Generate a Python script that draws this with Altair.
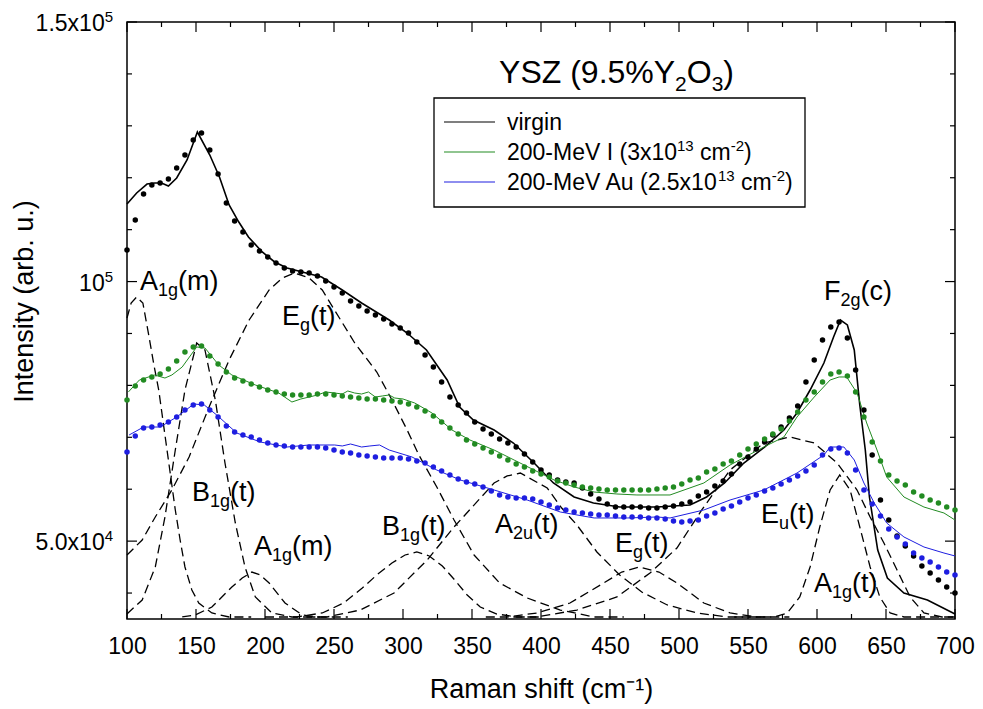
import altair as alt
import pandas as pd

FONT = "Liberation Sans"
W, H = 828, 597

# ---------------- data ----------------
# fitted curves (dots), sampled every 6 cm-1 from 100 to 700
fit_x = [100 + 6 * i for i in range(101)]
virgin_fit = [106080, 111860, 116870, 118600, 118990, 119760, 121880, 124380, 127270, 128620,
              125340, 120720, 115130, 111670, 109550, 107040, 105890, 104730, 103580, 102610,
              102040, 101840, 101650, 101070, 100110, 98950, 97800, 96260, 95290, 94330,
              93560, 92790, 91830, 91060, 90090, 88360, 85850, 83540, 80650, 77760,
              76220, 74680, 72950, 71600, 70640, 69670, 68900, 68130, 66780, 65240,
              63700, 62740, 61780, 61390, 61200, 60230, 59080, 58120, 57150, 56570,
              56570, 56570, 56570, 56380, 56380, 56570, 56770, 57150, 57540, 58690,
              59460, 60620, 61580, 62930, 64860, 66210, 67750, 69100, 70440, 71980,
              73720, 76030, 80650, 84890, 88740, 91250, 92210, 89130, 82970, 75260,
              66590, 57920, 54070, 50990, 49060, 47140, 45210, 43860, 42510, 41160, 40010]
iodine_fit = [77190, 79880, 81040, 81620, 82190, 83160, 84700, 86430, 87400, 87590,
              85660, 84120, 82580, 81420, 80850, 80270, 79690, 79110, 78730, 78340,
              78150, 78150, 78150, 78340, 78340, 78150, 77960, 77760, 77570, 77380,
              77380, 77190, 76990, 76800, 76420, 75840, 75070, 74100, 72950, 71790,
              70640, 69480, 68710, 67940, 67170, 66400, 65630, 64860, 64280, 63510,
              62930, 62350, 61580, 61200, 60810, 60430, 60230, 60040, 59850, 59850,
              59850, 59850, 59850, 59850, 60040, 60230, 60430, 61000, 61780, 62160,
              63320, 63890, 64860, 65440, 66590, 67750, 68710, 69670, 70640, 71600,
              73140, 74870, 77190, 78730, 80650, 82190, 82580, 81810, 78730, 73910,
              69100, 65440, 62740, 61580, 60810, 59460, 58690, 57920, 57340, 56570, 56000]
gold_fit = [67170, 70250, 71790, 71980, 72370, 72950, 73910, 75260, 76220, 76420,
            75260, 73910, 72180, 71020, 70440, 70060, 69480, 68900, 68520, 68330,
            68130, 68130, 68130, 68130, 67940, 67550, 67170, 66980, 66590, 66400,
            66210, 66010, 66010, 66010, 65820, 65440, 65050, 64280, 63510, 62740,
            61970, 61390, 61000, 60430, 59660, 58890, 58500, 58310, 58310, 58120,
            57540, 56960, 56380, 56000, 55610, 55420, 55230, 55030, 55030, 54840,
            54650, 54650, 54650, 54460, 54460, 54260, 53880, 53690, 53880, 54070,
            54840, 55420, 56190, 56770, 57540, 58310, 58890, 59660, 60230, 61000,
            61780, 62550, 63510, 64660, 66590, 67750, 67940, 66980, 63700, 59850,
            57150, 54840, 52330, 50800, 49450, 47710, 46750, 45980, 45020, 44050, 43480]

# measured spectra (solid lines)
virgin_x = [100, 107, 114.5, 120, 125, 130, 136, 143.5, 151, 160, 167, 174, 181, 188, 198,
            207, 216, 227, 241, 256, 270, 290, 303, 317, 332, 341, 351, 366, 380, 395,
            409, 424, 438, 457, 484, 508, 520, 533, 547, 562, 576, 585.5, 595, 605, 612,
            617, 622, 627, 631, 635, 638, 644, 651, 663, 680, 700]
virgin_y = [114940, 117060, 118790, 118990, 118990, 118410, 119950, 123420, 128810, 124380,
            120140, 114750, 111470, 108580, 105700, 103770, 102610, 101840, 100880, 98380,
            95870, 92600, 90090, 86820, 81040, 75840, 73330, 71410, 68900, 65050,
            61200, 58500, 57340, 56570, 56570, 56960, 58500, 61200, 65050, 68130,
            71410, 74680, 79110, 84310, 89320, 92600, 91640, 86820, 76220, 67560,
            58500, 48290, 42900, 40000, 38650, 35950]
iodine_x = [101, 109, 120, 127.5, 132.5, 140, 150.5, 156.5, 166.5, 176, 193, 210, 219.5, 226,
            232, 238, 244, 250.5, 256, 260, 265, 270, 275, 280, 285, 290, 294, 300, 308.5,
            321, 335.5, 348.5, 366, 380.5, 395, 409.5, 424, 438.5, 455, 469.5, 493.5, 518,
            537, 561.5, 576, 585.5, 598, 609.5, 616, 621.5, 629, 636, 643.5, 650.5, 663,
            677.5, 692, 700]
iodine_y = [78730, 81040, 82000, 81420, 82000, 83540, 87400, 87200, 83930, 82000, 80080, 78530,
            76800, 77380, 77760, 78150, 78730, 78530, 78340, 78920, 78530, 78340, 78730, 77760,
            77960, 78150, 77570, 77380, 76610, 74680, 71410, 69480, 67550, 65630, 63700, 61780,
            60430, 59460, 59080, 58890, 58890, 61200, 64660, 68130, 70060, 73910, 77760, 81040,
            81620, 81620, 78530, 72760, 67550, 62350, 58500, 56570, 55420, 54070]
gold_x = [101.5, 112, 124, 136, 148.5, 156, 165, 179.5, 196.5, 216, 232, 250.5, 256, 262, 270,
          276, 283, 290, 306.5, 324.5, 341.5, 366, 390, 414, 438.5, 462.5, 484, 493.5, 518,
          537, 561.5, 585.5, 605, 609.5, 619.5, 627, 634, 641.5, 650.5, 663, 677.5, 692, 700]
gold_y = [70440, 71980, 71980, 73910, 76420, 76220, 74300, 70830, 69100, 68130, 68520, 68520,
          68330, 68710, 68130, 68330, 68520, 67550, 66210, 63700, 61780, 59850, 57920, 55610,
          54460, 54460, 54650, 54460, 56000, 57920, 59850, 63120, 66590, 68130, 68130, 65630,
          61200, 57340, 53490, 50800, 48870, 47710, 47140]

series_names = ["virgin", "200-MeV I", "200-MeV Au"]
series_colors = ["#000000", "#228b22", "#1e1ee0"]

# fitted Raman components (dashed)
comp_names = ["A1g(m)-107", "B1g(t)-150", "A1g(m)-190", "Eg(t)-225", "B1g(t)-310",
              "A2u(t)-385", "Eg(t)-472", "Eu(t)-580", "A1g(t)-617"]
comp_x = [
    [100, 103, 107, 111.5, 116, 119.5, 123, 126, 129, 132, 135, 138.5, 142, 147, 152, 161.5, 174, 190],
    [100, 101.5, 111, 120.5, 127.5, 135, 142, 150.5, 156.5, 164, 171, 178.5, 185.5, 193, 205, 219.5, 240],
    [140, 149.5, 161.5, 176, 183.5, 190.5, 196.5, 203, 214.5, 227, 238, 260],
    [100, 111, 120.5, 132.5, 145, 159.5, 174, 188.5, 203, 212.5, 221.5, 232, 241.5, 265, 281, 292,
     303, 311.5, 324.5, 337, 351.5, 370, 390, 414, 438.5, 460],
    [200, 223, 241.5, 257, 270.5, 281, 292, 301.5, 310, 319, 328.5, 337.5, 346.5, 356, 368, 382.5, 400],
    [230, 245, 269, 293.5, 317.5, 337, 366, 375.5, 385, 404.5, 415, 426, 440.5, 457, 473, 491.5, 513, 535, 560],
    [360, 375.5, 397, 421, 445.5, 458.5, 471.5, 485.5, 498.5, 518, 537, 556.5, 580],
    [380, 397, 426, 455, 479, 498.5, 516.5, 537, 561.5, 580.5, 598, 614.5, 629, 638.5, 648.5, 658,
     667.5, 677.5, 690.5, 700],
    [540, 557, 569, 578.5, 587.5, 595, 602, 609.5, 616.5, 624, 631, 638.5, 645.5, 653, 663, 680, 700],
]
comp_y = [
    [92980, 95870, 97030, 95870, 89320, 83930, 79110, 73330, 67550, 61780, 56000, 50220, 45020, 40590,
     38080, 36160, 35390, 35390],
    [35970, 36350, 38660, 45020, 54650, 67550, 79110, 88170, 86820, 77190, 65050, 53490, 45020, 39240,
     36160, 35390, 35390],
    [35390, 35770, 37310, 41160, 42900, 44050, 43480, 41940, 38080, 35770, 35390, 35390],
    [47330, 50220, 54650, 59850, 66210, 75840, 84890, 92600, 98380, 100690, 101650, 100690, 98380,
     88170, 82580, 77190, 71410, 66590, 60430, 54070, 47330, 41940, 39050, 36730, 35390, 35390],
    [35390, 35390, 36160, 38080, 40970, 43480, 45790, 47330, 47910, 47140, 45210, 42510, 39620, 37310,
     35960, 35390, 35390],
    [35390, 35390, 36730, 40010, 46360, 52720, 61200, 62550, 63120, 60230, 56380, 53110, 47910, 43480,
     40200, 37700, 36160, 35390, 35390],
    [35390, 35390, 36160, 38080, 41940, 44050, 45020, 44050, 41940, 38080, 36160, 35390, 35390],
    [35390, 35390, 36730, 39240, 43860, 48680, 56000, 63700, 68900, 70060, 68900, 65050, 59850, 54650,
     49640, 44440, 39240, 36160, 35390, 35390],
    [35390, 35390, 35390, 36160, 39240, 45020, 52720, 59850, 62740, 59850, 52720, 45020, 39240, 36160,
     35390, 35390, 35390],
]

# peak labels: main letter, subscript, rest, anchor (x, y)
label_base = ["A", "E", "B", "A", "B", "A", "E", "E", "A", "F"]
label_sub = ["1g", "g", "1g", "1g", "1g", "2u", "g", "u", "1g", "2g"]
label_rest = ["(m)", "(t)", "(t)", "(m)", "(t)", "(t)", "(t)", "(t)", "(t)", "(c)"]
label_x = [109.4, 212.3, 147.1, 192.0, 284.8, 366.7, 453.6, 559.4, 597.8, 605.0]
label_y = [98380, 91640, 57745, 47340, 51200, 51580, 47920, 53510, 40220, 96460]

title_pieces = [("YSZ (9.5%Y", "n"), ("2", "sub"), ("O", "n"), ("3", "sub"), (")", "n")]
title_x, title_y = 369.6, 138250

legend_rows = [
    [("virgin", "n")],
    [("200-MeV I (3x10", "n"), ("13", "sup"), (" cm", "n"), ("-2", "sup"), (")", "n")],
    [("200-MeV Au (2.5x10", "n"), ("13", "sup"), (" cm", "n"), ("-2", "sup"), (")", "n")],
]

x_major = [100, 150, 200, 250, 300, 350, 400, 450, 500, 550, 600, 650, 700]
x_minor = [125, 175, 225, 275, 325, 375, 425, 475, 525, 575, 625, 675]
y_major = [50000, 100000, 150000]
y_label_main = ["5.0x10", "10", "1.5x10"]
y_label_exp = ["4", "5", "5"]
y_minor = [40000, 60000, 70000, 80000, 90000, 110000, 120000, 130000, 140000]

# ---------------- helpers ----------------
CW = {' ': 278, '(': 333, ')': 333, '%': 889, '-': 333, '.': 278, 'x': 500, 'A': 667, 'B': 667,
      'E': 667, 'F': 611, 'I': 278, 'M': 833, 'O': 778, 'S': 667, 'V': 667, 'Y': 667, 'Z': 611,
      'a': 556, 'c': 500, 'e': 556, 'g': 556, 'i': 222, 'm': 833, 'n': 556, 'r': 333, 't': 278,
      'u': 556, 'v': 500}


def tw(s, size):
    return sum(CW.get(c, 556) for c in s) * size / 1000.0


def layout(pieces, size, small, sub_dy, sup_dy):
    out, off = [], 0.0
    for text, kind in pieces:
        fs = size if kind == "n" else small
        dy = 0 if kind == "n" else (sub_dy if kind == "sub" else sup_dy)
        lead = len(text) - len(text.lstrip(" "))
        off += tw(" " * lead, fs)
        t = text.strip(" ")
        out.append((t, off, dy, fs))
        off += tw(t, fs)
    return out, off


XS = alt.Scale(domain=[100, 700], nice=False, zero=False)
YS = alt.Scale(domain=[35000, 150000], nice=False, zero=False)
XAXIS = alt.Axis(values=x_major, title="Raman shift (cm⁻¹)", grid=False, ticks=False, tickSize=0,
                 domain=False, labelFont=FONT, labelFontSize=23, labelColor="black", labelPadding=16,
                 labelFlush=False, labelOverlap=False, titleFont=FONT, titleFontSize=27,
                 titleFontWeight="normal", titleColor="black", titleY=78, titleBaseline="alphabetic")
YAXIS = alt.Axis(values=y_major, title="Intensity (arb. u.)", grid=False, ticks=False, tickSize=0,
                 domain=False, labels=False,
                 titleFont=FONT, titleFontSize=27, titleFontWeight="normal", titleColor="black",
                 titleX=-95, titleY=279, titleAngle=270, titleAlign="center", titleBaseline="alphabetic")


def X(f):
    return alt.X(f, type="quantitative", scale=XS, axis=XAXIS)


def Y(f):
    return alt.Y(f, type="quantitative", scale=YS, axis=YAXIS)


color_scale = alt.Scale(domain=series_names, range=series_colors)

# ---------------- tables ----------------
lines_df = pd.concat([
    pd.DataFrame({"x": virgin_x, "y": virgin_y, "s": series_names[0]}),
    pd.DataFrame({"x": iodine_x, "y": iodine_y, "s": series_names[1]}),
    pd.DataFrame({"x": gold_x, "y": gold_y, "s": series_names[2]}),
], ignore_index=True)
dots_df = pd.concat([
    pd.DataFrame({"x": fit_x, "y": virgin_fit, "s": series_names[0]}),
    pd.DataFrame({"x": fit_x, "y": iodine_fit, "s": series_names[1]}),
    pd.DataFrame({"x": fit_x, "y": gold_fit, "s": series_names[2]}),
], ignore_index=True)
comps_df = pd.concat([pd.DataFrame({"x": cx, "y": cy, "c": n})
                      for n, cx, cy in zip(comp_names, comp_x, comp_y)], ignore_index=True)

layers = []
layers.append(alt.Chart(comps_df).mark_line(color="black", strokeWidth=1.3, strokeDash=[9, 5])
              .encode(x=X("x"), y=Y("y"), detail="c:N"))
for name, sw in zip(series_names, [1.6, 1.0, 1.0]):
    layers.append(alt.Chart(lines_df[lines_df.s == name]).mark_line(strokeWidth=sw)
                  .encode(x=X("x"), y=Y("y"),
                          color=alt.Color("s:N", scale=color_scale, legend=None)))
layers.append(alt.Chart(dots_df).mark_circle(size=30, opacity=1)
              .encode(x=X("x"), y=Y("y"), color=alt.Color("s:N", scale=color_scale, legend=None)))


# inward ticks on all four sides
def xticks(vals, ln):
    d = pd.DataFrame({"v": vals})
    return [alt.Chart(d).mark_rule(color="black", strokeWidth=1.2)
            .encode(x=X("v"), y=alt.value(H), y2=alt.value(H - ln)),
            alt.Chart(d).mark_rule(color="black", strokeWidth=1.2)
            .encode(x=X("v"), y=alt.value(0), y2=alt.value(ln))]


def yticks(vals, ln):
    d = pd.DataFrame({"v": vals})
    return [alt.Chart(d).mark_rule(color="black", strokeWidth=1.2)
            .encode(y=Y("v"), x=alt.value(0), x2=alt.value(ln)),
            alt.Chart(d).mark_rule(color="black", strokeWidth=1.2)
            .encode(y=Y("v"), x=alt.value(W), x2=alt.value(W - ln))]


layers += xticks(x_major, 10) + xticks(x_minor, 5) + yticks(y_major, 10) + yticks(y_minor, 5)

# y tick labels with real superscripts, right aligned 14 px left of the axis
for v, m, e in zip(y_major, y_label_main, y_label_exp):
    parts, total = layout([(m, "n"), (e, "sup")], 23, 15, 6, -9)
    for t, off, dy, fs in parts:
        layers.append(alt.Chart(pd.DataFrame({"v": [v], "t": [t]}))
                      .mark_text(align="left", baseline="alphabetic", dy=9 + dy, font=FONT,
                                 fontSize=fs, color="black")
                      .encode(x=alt.value(-14 - total + off), y=Y("v"), text="t:N"))

# legend (box, line samples, labels)
one = pd.DataFrame({"k": [0]})
layers.append(alt.Chart(one).mark_rect(fill="white", stroke="black", strokeWidth=1.3)
              .encode(x=alt.value(307), x2=alt.value(678), y=alt.value(76), y2=alt.value(185)))
for i, (pieces, col) in enumerate(zip(legend_rows, series_colors)):
    yc = 100 + 30 * i
    layers.append(alt.Chart(one).mark_rule(color=col, strokeWidth=1.2)
                  .encode(x=alt.value(317), x2=alt.value(368), y=alt.value(yc)))
    parts, _ = layout(pieces, 23, 15, 6, -9)
    for t, off, dy, fs in parts:
        layers.append(alt.Chart(pd.DataFrame({"t": [t]}))
                      .mark_text(align="left", baseline="alphabetic", font=FONT, fontSize=fs, color="black")
                      .encode(x=alt.value(380 + off), y=alt.value(yc + 8 + dy), text="t:N"))

# peak labels
for b, s, r, lx, ly in zip(label_base, label_sub, label_rest, label_x, label_y):
    parts, _ = layout([(b, "n"), (s, "sub"), (r, "n")], 27, 18, 6, -9)
    for t, off, dy, fs in parts:
        layers.append(alt.Chart(pd.DataFrame({"x": [lx], "y": [ly], "t": [t]}))
                      .mark_text(align="left", baseline="alphabetic", dx=off, dy=dy, font=FONT,
                                 fontSize=fs, color="black")
                      .encode(x=X("x"), y=Y("y"), text="t:N"))

# title inside the plot
parts, _ = layout(title_pieces, 32, 21, 8, -10)
for t, off, dy, fs in parts:
    layers.append(alt.Chart(pd.DataFrame({"x": [title_x], "y": [title_y], "t": [t]}))
                  .mark_text(align="left", baseline="alphabetic", dx=off, dy=dy, font=FONT,
                             fontSize=fs, color="black")
                  .encode(x=X("x"), y=Y("y"), text="t:N"))

chart = (alt.layer(*layers)
         .properties(width=W, height=H,
                     padding={"left": 119, "top": 14, "right": 20, "bottom": 88},
                     autosize=alt.AutoSizeParams(type="none"), background="white")
         .configure_view(stroke="black", strokeWidth=1.5))

chart.save("out.html", embed_options={"renderer": "svg", "actions": False})
